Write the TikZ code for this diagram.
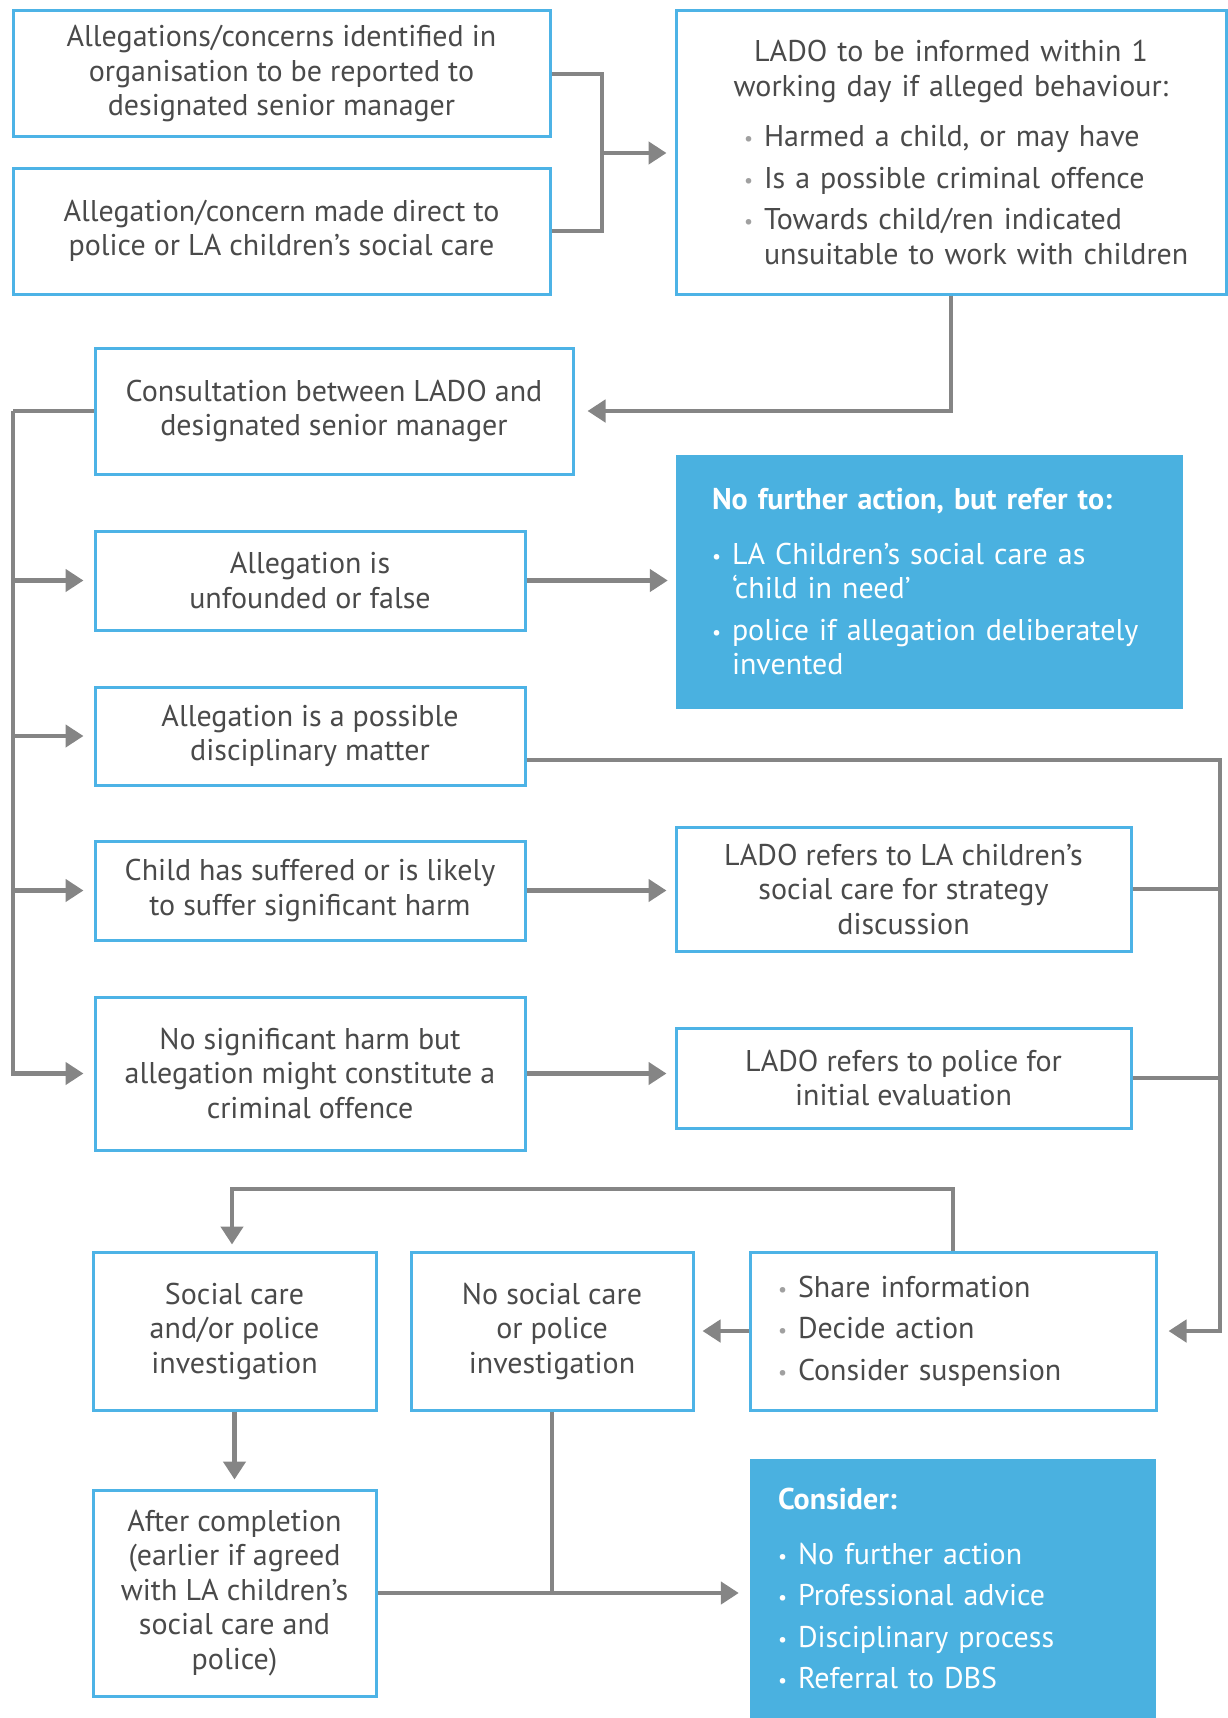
\documentclass[tikz,border=0pt]{standalone}
\usepackage{fontspec}
\setmainfont{PT Sans}
\usetikzlibrary{arrows.meta}
\definecolor{bbord}{HTML}{4DB3E6}
\definecolor{bfill}{HTML}{4AB1E0}
\definecolor{lgrey}{HTML}{858585}
\definecolor{tgrey}{HTML}{4A4A4A}
\definecolor{dotgrey}{HTML}{A0A0A0}
\hyphenpenalty=10000
\exhyphenpenalty=10000
\newcommand{\bpt}[2][dotgrey]{\hangindent=20pt\hangafter=1\noindent\makebox[20pt][l]{\textcolor{#1}{\fontsize{20}{20}\selectfont\raisebox{1pt}{•}}}#2\par}
\tikzset{
  basefont/.style={font=\fontsize{30}{34.5}\selectfont},
  box/.style={basefont, draw=bbord, line width=3pt, fill=white, text=tgrey, align=center, inner sep=0pt},
  bluebox/.style={basefont, draw=none, fill=bfill, text=white, align=left, inner sep=0pt},
  conn/.style={draw=lgrey, line width=4.5pt},
  arr/.style={conn, -{Triangle[length=18pt,width=22pt]}},
}
\begin{document}
\begin{tikzpicture}[x=1pt,y=-1pt]
\useasboundingbox (0,0) rectangle (1228,1718);
% boxes
\node[box, minimum width=537pt, minimum height=126pt] (A1) at (281.5,74)
  {Allegations/concerns identified in\\organisation to be reported to\\designated senior manager};
\node[box, minimum width=537pt, minimum height=126pt] (A2) at (281.5,231)
  {Allegation/concern made direct to\\police or LA children’s social care};
\node[box, minimum width=550pt, minimum height=283pt, text width=490pt, align=left] (LADO) at (951,152.5)
  {{\centering LADO to be informed within 1\\ working day if alleged behaviour:\par}\vspace{16pt}
   {\leftskip=38pt
   \bpt{Harmed a child, or may have}\vspace{7pt}
   \bpt{Is a possible criminal offence}\vspace{7pt}
   \bpt{Towards child/ren indicated\newline unsuitable to work with children}}};
\node[box, minimum width=478pt, minimum height=126pt] (Cons) at (334,411)
  {Consultation between LADO and\\designated senior manager};
\node[box, minimum width=430pt, minimum height=99pt] (Unf) at (310,580.5)
  {Allegation is\\unfounded or false};
\node[bluebox, minimum width=507pt, minimum height=254pt, text width=435pt] (NFA) at (929.5,582)
  {{\bfseries No further action, but refer to:}\par\vspace{20pt}
   \bpt[white]{LA Children’s social care as\newline ‘child in need’}\vspace{7pt}
   \bpt[white]{police if allegation deliberately\newline invented}};
\node[box, minimum width=430pt, minimum height=98pt] (Disc) at (310,736)
  {Allegation is a possible\\disciplinary matter};
\node[box, minimum width=430pt, minimum height=99pt] (Harm) at (310,890.5)
  {Child has suffered or is likely\\to suffer significant harm};
\node[box, minimum width=455pt, minimum height=124pt] (Strat) at (903.5,889)
  {LADO refers to LA children’s\\social care for strategy\\discussion};
\node[box, minimum width=430pt, minimum height=153pt] (NoSig) at (310,1073.5)
  {No significant harm but\\allegation might constitute a\\criminal offence};
\node[box, minimum width=455pt, minimum height=100pt] (Police) at (903.5,1078)
  {LADO refers to police for\\initial evaluation};
\node[box, minimum width=283pt, minimum height=158pt] (Soc) at (234.5,1331)
  {Social care\\and/or police\\investigation};
\node[box, minimum width=282pt, minimum height=158pt] (NoSoc) at (552,1331)
  {No social care\\or police\\investigation};
\node[box, minimum width=406pt, minimum height=158pt, text width=350pt, align=left] (Share) at (953,1331)
  {\bpt{Share information}\vspace{7pt}
   \bpt{Decide action}\vspace{7pt}
   \bpt{Consider suspension}};
\node[box, minimum width=283pt, minimum height=206pt] (After) at (234.5,1593)
  {After completion\\(earlier if agreed\\with LA children’s\\social care and\\police)};
\node[bluebox, minimum width=406pt, minimum height=259pt, text width=350pt] (Consider) at (953,1588.5)
  {{\bfseries Consider:}\par\vspace{20pt}
   \bpt[white]{No further action}\vspace{7pt}
   \bpt[white]{Professional advice}\vspace{7pt}
   \bpt[white]{Disciplinary process}\vspace{7pt}
   \bpt[white]{Referral to DBS}};
% junction coordinates
\coordinate (j1) at (602,153);
\coordinate (bus) at (13,411);
\coordinate (dR) at (1220,760);
\coordinate (lp) at (232,1189);
% connectors
\draw[conn] (A1.east) -| (j1);
\draw[conn] (A2.east) -| (j1);
\draw[arr, shorten >=8pt] (j1) -- (j1 -| LADO.west);
\draw[arr, shorten >=13pt] (LADO.south) |- (Cons.east);
\draw[conn] (Cons.west) -- (bus);
\draw[arr, shorten >=10pt] (bus) |- (NoSig.west);
\draw[arr, shorten >=10pt] (bus |- Unf.west) -- (Unf.west);
\draw[arr, shorten >=10pt] (bus |- Disc.west) -- (Disc.west);
\draw[arr, shorten >=10pt] (bus |- Harm.west) -- (Harm.west);
\draw[arr, shorten >=8pt] (Unf.east) -- (Unf.east -| NFA.west);
\draw[arr, shorten >=11pt] (Disc.east |- dR) -- (dR) |- (Share.east);
\draw[arr, shorten >=8pt] (Harm.east) -- (Harm.east -| Strat.west);
\draw[conn] (Strat.east) -- (Strat.east -| dR);
\draw[arr, shorten >=8pt] (NoSig.east) -- (NoSig.east -| Police.west);
\draw[conn] (Police.east) -- (Police.east -| dR);
\draw[arr, shorten >=6pt] (Share.north) |- (lp) -- (lp |- Soc.north);
\draw[arr, shorten >=8pt] (Share.west) -- (Share.west -| NoSoc.east);
\draw[arr, shorten >=9pt] (Soc.south) -- (After.north);
\draw[conn] (NoSoc.south) -- (NoSoc.south |- After.east);
\draw[arr, shorten >=11pt] (After.east) -- (After.east -| Consider.west);
\end{tikzpicture}
\end{document}
